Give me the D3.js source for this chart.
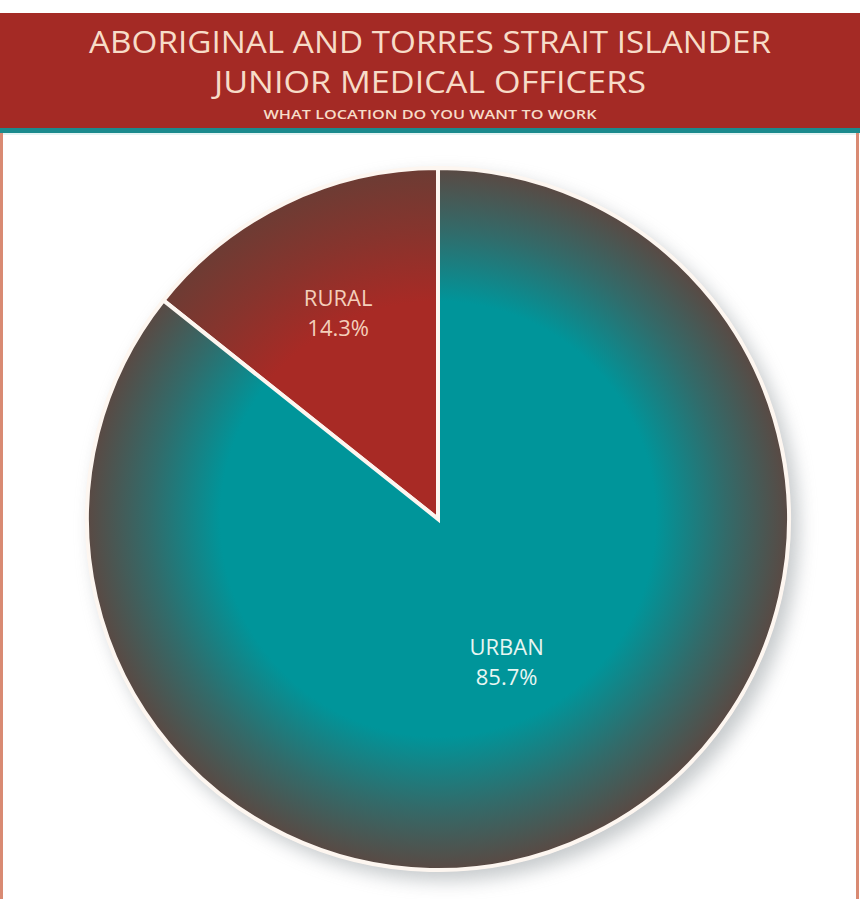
<!DOCTYPE html>
<html>
<head>
<meta charset="utf-8">
<script src="https://cdn.jsdelivr.net/npm/d3@7/dist/d3.min.js"></script>
<style>
  html, body { margin: 0; padding: 0; background: #ffffff; }
  svg { display: block; }
</style>
</head>
<body>
<svg id="chart" width="860" height="899"></svg>
<script>
// Survey answers: preferred work location
const categories = ["RURAL", "URBAN"];
const shares = [14.3, 85.7];
const titleLines = ["ABORIGINAL AND TORRES STRAIT ISLANDER", "JUNIOR MEDICAL OFFICERS"];
const subtitle = "WHAT LOCATION DO YOU WANT TO WORK";

const W = 860, H = 899;
const svg = d3.select("#chart");
const defs = svg.append("defs");

// Header band with teal rule underneath
svg.append("rect").attr("x", 0).attr("y", 13).attr("width", W).attr("height", 116).attr("fill", "#a42a25");
svg.append("rect").attr("x", 0).attr("y", 128).attr("width", W).attr("height", 5).attr("fill", "#1b8a8d");
svg.append("rect").attr("x", 0).attr("y", 133).attr("width", W).attr("height", 2).attr("fill", "#e4f4f3");

// Side frame lines
svg.append("rect").attr("x", 0).attr("y", 133).attr("width", 3).attr("height", H - 133).attr("fill", "#d98a73");
svg.append("rect").attr("x", 856).attr("y", 133).attr("width", 3).attr("height", H - 133).attr("fill", "#d98a73");

const titleFont = "'Open Sans', 'DejaVu Sans', sans-serif";
const titleSpecs = [
  { text: titleLines[0], y: 53, size: 31, len: 682 },
  { text: titleLines[1], y: 93, size: 31, len: 432 },
  { text: subtitle, y: 119, size: 12.5, len: 333, weight: 600 }
];
svg.append("g").selectAll("text").data(titleSpecs).join("text")
  .attr("x", W / 2)
  .attr("y", d => d.y)
  .attr("text-anchor", "middle")
  .attr("font-family", titleFont)
  .attr("font-size", d => d.size)
  .attr("font-weight", d => d.weight || 400)
  .attr("textLength", d => d.len)
  .attr("lengthAdjust", "spacingAndGlyphs")
  .attr("fill", "#f7dcc8")
  .text(d => d.text);

// Pie geometry
const cx = 438, cy = 519, R = 351;
const g = svg.append("g").attr("transform", `translate(${cx},${cy})`);

// Soft drop shadow behind the disc
const shadow = defs.append("filter").attr("id", "shadow")
  .attr("x", "-20%").attr("y", "-20%").attr("width", "140%").attr("height", "140%");
shadow.append("feGaussianBlur").attr("stdDeviation", 9);
g.append("circle").attr("cx", 8).attr("cy", 9).attr("r", R + 2)
  .attr("fill", "#9aa0a4").attr("opacity", 0.55).attr("filter", "url(#shadow)");

// Radial shading for each slice: flat centre, darkening rim
const shades = [
  { inner: "#a82a25", outer: "#6c3c34" },
  { inner: "#00959a", outer: "#5a4943" }
];
shades.forEach((s, i) => {
  const grad = defs.append("radialGradient").attr("id", "shade" + i)
    .attr("gradientUnits", "userSpaceOnUse")
    .attr("cx", 0).attr("cy", 0).attr("r", R);
  grad.append("stop").attr("offset", 0).attr("stop-color", s.inner);
  grad.append("stop").attr("offset", 0.62).attr("stop-color", s.inner);
  grad.append("stop").attr("offset", 0.82).attr("stop-color", d3.interpolateRgb(s.inner, s.outer)(0.55));
  grad.append("stop").attr("offset", 1).attr("stop-color", s.outer);
});

// The first slice ends at twelve o'clock, the rest run clockwise from there
const total = d3.sum(shares);
const start = -2 * Math.PI * shares[0] / total;
const pie = d3.pie().sort(null).value(d => d).startAngle(start).endAngle(start + 2 * Math.PI);
const arcs = pie(shares);
const arc = d3.arc().innerRadius(0).outerRadius(R);

// Outer white rim
g.append("circle").attr("r", R + 1.5).attr("fill", "#fdf6f0");

g.selectAll("path.slice").data(arcs).join("path")
  .attr("class", "slice")
  .attr("d", arc)
  .attr("fill", (d, i) => `url(#shade${i})`)
  .attr("stroke", "#fdf6f0")
  .attr("stroke-width", 4)
  .attr("stroke-linejoin", "miter");

// Slice labels: name over percentage
const labelRadius = [0.655 * R, 0.45 * R];
const labelColors = ["#f4cfbb", "#e8f6f2"];
const labelRows = [];
arcs.forEach((d, i) => {
  const a = (d.startAngle + d.endAngle) / 2;
  const r = labelRadius[i];
  const x = r * Math.sin(a), y = -r * Math.cos(a);
  labelRows.push({ text: categories[i], x, y: y - 6, color: labelColors[i] });
  labelRows.push({ text: d3.format(".1f")(d.data) + "%", x, y: y + 24, color: labelColors[i] });
});
g.selectAll("text.label").data(labelRows).join("text")
  .attr("class", "label")
  .attr("x", d => d.x)
  .attr("y", d => d.y)
  .attr("text-anchor", "middle")
  .attr("font-family", titleFont)
  .attr("font-size", 22)
  .attr("fill", d => d.color)
  .text(d => d.text);
</script>
</body>
</html>
